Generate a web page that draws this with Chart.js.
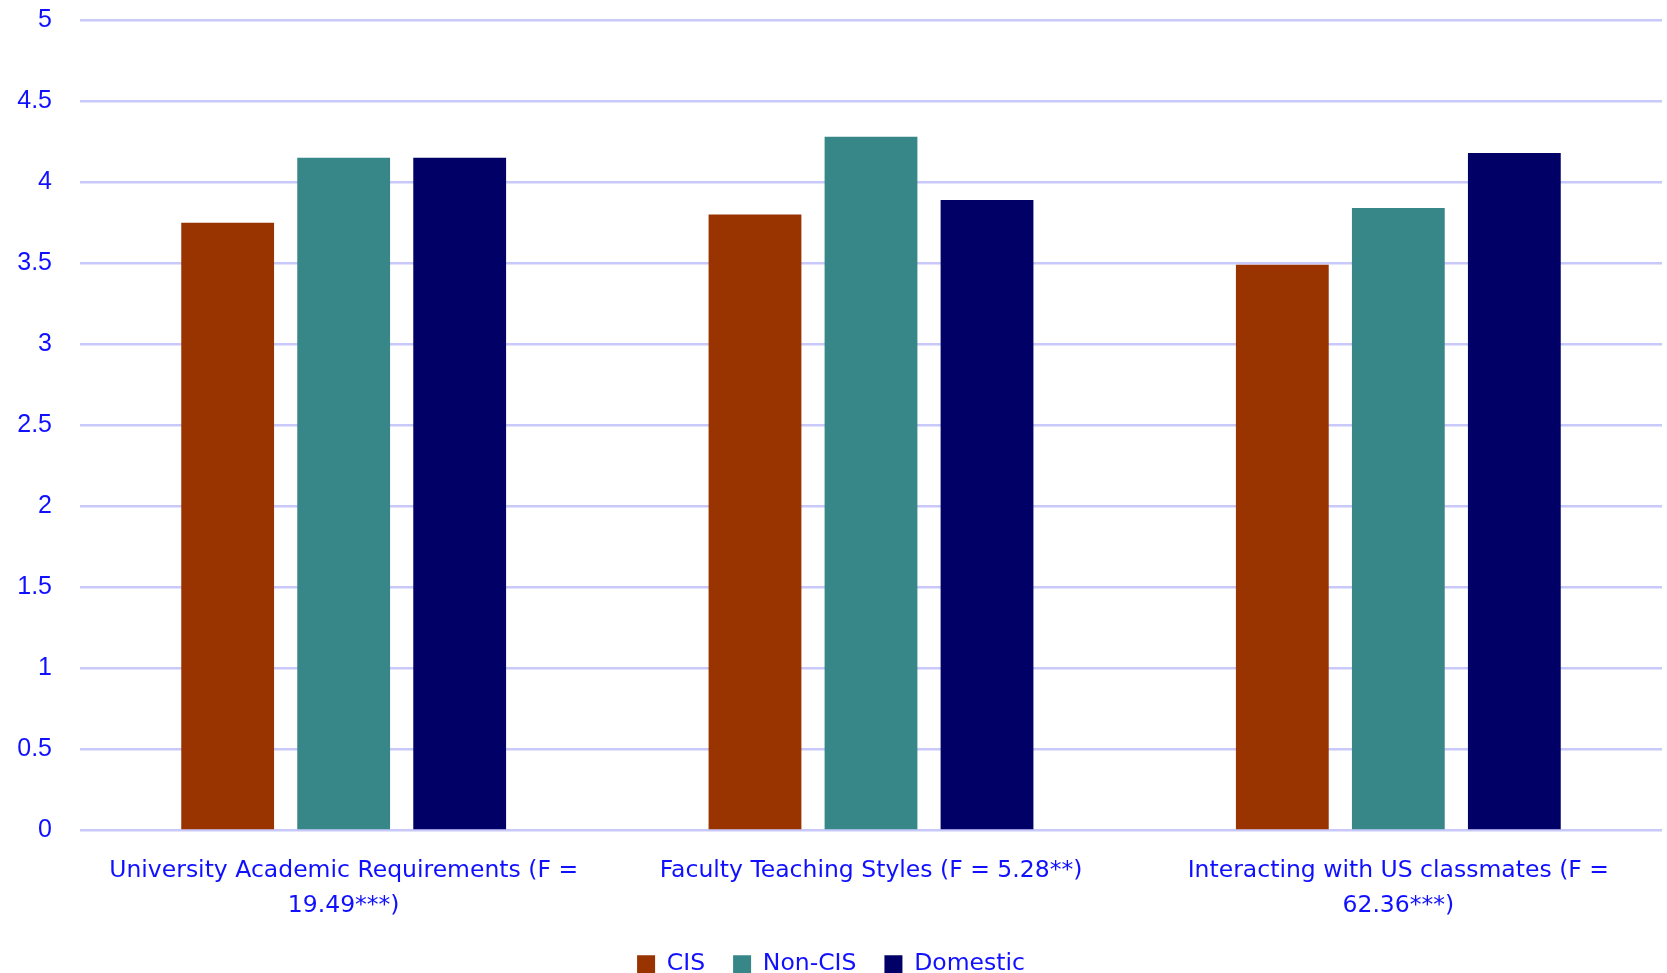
<!DOCTYPE html>
<html>
<head>
<meta charset="utf-8">
<script src="https://cdn.jsdelivr.net/npm/chart.js@4"></script>
<style>
  html, body { margin: 0; padding: 0; background: #fff; overflow: hidden; width: 1667px; height: 973px; }
  #wrap { position: relative; top: -23px; width: 1667px; height: 1009px; }
</style>
</head>
<body>
<div id="wrap"><canvas id="barChart"></canvas></div>
<script>
// chart data
const categories = [
  ['University Academic Requirements (F =', '19.49***)'],
  ['Faculty Teaching Styles (F = 5.28**)'],
  ['Interacting with US classmates (F =', '62.36***)']
];
const seriesNames = ['CIS', 'Non-CIS', 'Domestic'];
const cisValues = [3.75, 3.80, 3.49];
const nonCisValues = [4.15, 4.28, 3.84];
const domesticValues = [4.15, 3.89, 4.18];
const seriesColors = ['#993300', '#378789', '#000066'];

const comicFont = "'Comic Sans MS', 'DejaVu Sans', sans-serif";
const blue = '#1010ff';

const ctx = document.getElementById('barChart');

new Chart(ctx, {
  type: 'bar',
  data: {
    labels: categories,
    datasets: [cisValues, nonCisValues, domesticValues].map((vals, i) => ({
      label: seriesNames[i],
      data: vals,
      backgroundColor: seriesColors[i],
      borderWidth: 0,
      categoryPercentage: 0.66,
      barPercentage: 0.8
    }))
  },
  options: {
    responsive: true,
    maintainAspectRatio: false,
    animation: false,
    layout: { padding: { top: 0, left: 0, right: 5, bottom: 0 } },
    plugins: {
      tooltip: { enabled: false },
      legend: {
        position: 'bottom',
        labels: {
          color: blue,
          boxWidth: 18,
          boxHeight: 18,
          padding: 28,
          font: { family: comicFont, size: 23.5 }
        }
      }
    },
    scales: {
      x: {
        grid: { display: false },
        border: { display: false },
        afterFit: (s) => { s.height = 94; },
        ticks: {
          color: blue,
          padding: 15,
          maxRotation: 0,
          autoSkip: false,
          font: { family: comicFont, size: 23.5, lineHeight: '35px' }
        }
      },
      y: {
        min: 0,
        max: 5,
        border: { display: false },
        afterFit: (s) => { s.width = 80; },
        grid: { color: '#c8c8fa', lineWidth: 2.5, drawTicks: false },
        ticks: {
          stepSize: 0.5,
          color: blue,
          padding: 28,
          callback: (v) => String(v),
          font: { family: "'Liberation Sans', Arial, sans-serif", size: 25 }
        }
      }
    }
  }
});
</script>
</body>
</html>
